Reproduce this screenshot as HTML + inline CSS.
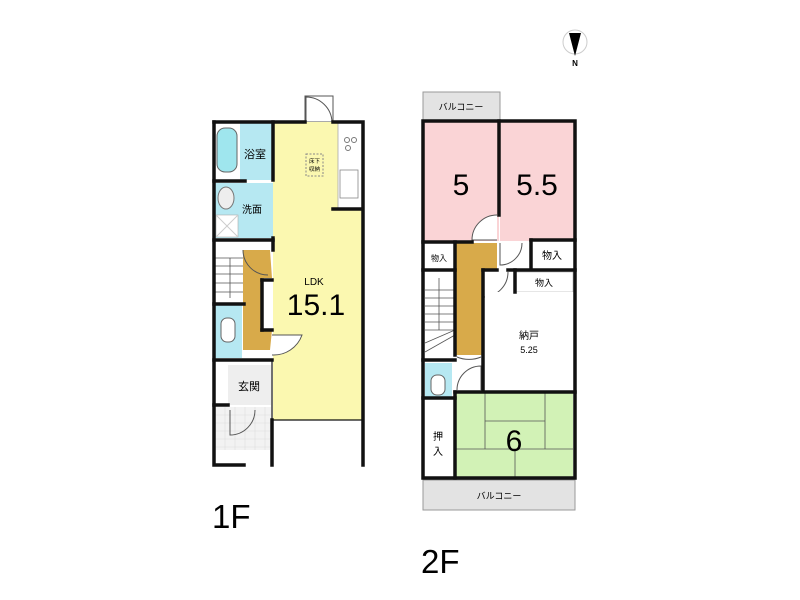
<!DOCTYPE html>
<html><head><meta charset="utf-8"><style>
html,body{margin:0;padding:0;background:#fff;width:800px;height:600px;overflow:hidden}
text{font-family:"Liberation Sans","Noto Sans CJK JP",sans-serif}
</style></head><body>
<svg width="800" height="600" viewBox="0 0 800 600" xmlns="http://www.w3.org/2000/svg">
<!-- compass -->
<circle cx="575" cy="42" r="12" fill="#fff" stroke="#ccc" stroke-width="1"/>
<polygon points="569,33 581,33 575,56" fill="#000"/>
<text x="575" y="66" font-size="8" font-weight="bold" text-anchor="middle">N</text>

<!-- ===== 1F ===== -->
<!-- entry door top -->
<rect x="305" y="96" width="28" height="26" fill="#fff" stroke="#555" stroke-width="1"/>
<path d="M306 122 L306 97 A26 26 0 0 1 332 122" fill="none" stroke="#555"/>
<!-- LDK -->
<rect x="273" y="122" width="89" height="298" fill="#fbf8b0"/>
<rect x="338" y="122" width="24" height="86" fill="#fff" stroke="#aaa" stroke-width="0.8"/>
<circle cx="347" cy="140" r="2.5" fill="none" stroke="#777"/><circle cx="354" cy="140" r="2.5" fill="none" stroke="#777"/><circle cx="348" cy="148" r="2.5" fill="none" stroke="#777"/>
<rect x="340" y="170" width="18" height="28" fill="#fff" stroke="#888" stroke-width="0.8"/>
<rect x="306" y="154" width="17" height="22" fill="none" stroke="#888" stroke-dasharray="2,1.5"/>
<text x="314.5" y="163" font-size="5.5" text-anchor="middle">床下</text>
<text x="314.5" y="171" font-size="5.5" text-anchor="middle">収納</text>
<text x="314" y="285" font-size="10" text-anchor="middle">LDK</text>
<text x="316" y="315" font-size="30" text-anchor="middle" transform="scale(1,1)">15.1</text>
<!-- bath -->
<rect x="213" y="122" width="60" height="58" fill="#fff"/>
<rect x="240" y="122" width="33" height="58" fill="#b6e8f2"/>
<rect x="217" y="128" width="20" height="44" rx="8" fill="#9fe6ee" stroke="#666" stroke-width="1"/>
<text x="255" y="158" font-size="11" text-anchor="middle">浴室</text>
<!-- washroom -->
<rect x="215" y="183" width="58" height="55" fill="#b6e8f2"/>
<ellipse cx="226" cy="198" rx="8" ry="11" fill="#eee" stroke="#777"/>
<rect x="216" y="215" width="22" height="22" fill="#fff" stroke="#aaa" stroke-width="0.6"/>
<line x1="216" y1="215" x2="238" y2="237" stroke="#ccc"/><line x1="238" y1="215" x2="216" y2="237" stroke="#ccc"/>
<text x="252" y="213" font-size="10" text-anchor="middle">洗面</text>
<!-- stairs -->
<rect x="215" y="243" width="30" height="60" fill="#fff"/>
<g stroke="#555" stroke-width="0.8">
<line x1="215" y1="258" x2="245" y2="258"/><line x1="215" y1="266" x2="245" y2="266"/><line x1="215" y1="274" x2="245" y2="274"/><line x1="215" y1="283" x2="245" y2="283"/><line x1="215" y1="292" x2="245" y2="292"/>
<line x1="230" y1="258" x2="230" y2="298"/></g>
<!-- hall tan -->
<polygon points="243,250 270,250 272,278 262,278 262,330 272,330 270,350 243,350" fill="#d8aa4a"/>
<path d="M243 250 A25 25 0 0 0 268 275" fill="none" stroke="#555"/>
<!-- toilet -->
<rect x="215" y="305" width="27" height="53" fill="#b6e8f2"/>
<rect x="221" y="318" width="14" height="24" rx="6" fill="#fff" stroke="#666"/>
<!-- door to LDK -->
<path d="M272 335 L302 335 A30 30 0 0 1 272 355" fill="#fff" stroke="#555"/>
<!-- genkan -->
<rect x="228" y="365" width="43" height="40" fill="#eeeeee"/>
<text x="249" y="390" font-size="11" text-anchor="middle">玄関</text>
<rect x="215" y="407" width="56" height="43" fill="#f2f2f2"/>
<g stroke="#ddd" stroke-width="0.6">
<line x1="215" y1="415" x2="271" y2="415"/><line x1="215" y1="423" x2="271" y2="423"/><line x1="215" y1="431" x2="271" y2="431"/><line x1="215" y1="439" x2="271" y2="439"/><line x1="215" y1="447" x2="271" y2="447"/>
<line x1="225" y1="407" x2="225" y2="450"/><line x1="235" y1="407" x2="235" y2="450"/><line x1="245" y1="407" x2="245" y2="450"/><line x1="255" y1="407" x2="255" y2="450"/><line x1="265" y1="407" x2="265" y2="450"/></g>
<path d="M230 410 L230 435 A25 25 0 0 0 255 410" fill="none" stroke="#555"/>
<!-- 1F walls -->
<g stroke="#111" stroke-width="3.5" fill="none" stroke-linecap="square">
<polyline points="214,122 305,122"/><polyline points="333,122 363,122 363,465"/>
<polyline points="214,122 214,465 244,465"/>
<line x1="273" y1="122" x2="273" y2="180"/><line x1="273" y1="238" x2="273" y2="250"/>
<line x1="214" y1="181" x2="245" y2="181"/><line x1="214" y1="240" x2="273" y2="240"/>
<line x1="214" y1="304" x2="244" y2="304"/><line x1="214" y1="360" x2="272" y2="360"/>
<line x1="333" y1="209" x2="362" y2="209"/>
<line x1="272" y1="420" x2="272" y2="465"/><line x1="214" y1="405" x2="228" y2="405"/>
<line x1="272" y1="280" x2="262" y2="280"/><line x1="262" y1="280" x2="262" y2="330"/><line x1="262" y1="330" x2="272" y2="330"/>
</g>
<g stroke="#111" stroke-width="1.2"><line x1="272" y1="420" x2="362" y2="420"/><line x1="272" y1="360" x2="272" y2="420"/></g>

<!-- ===== 2F ===== -->
<rect x="423" y="92" width="77" height="28" fill="#e3e3e3" stroke="#999"/>
<text x="461" y="110" font-size="9" text-anchor="middle">バルコニー</text>
<rect x="423" y="480" width="152" height="30" fill="#e3e3e3" stroke="#999"/>
<text x="499" y="499" font-size="9" text-anchor="middle">バルコニー</text>
<rect x="423" y="121" width="76" height="120" fill="#fad4d6"/>
<rect x="500" y="121" width="75" height="120" fill="#fad4d6"/>
<text x="461" y="195" font-size="30" text-anchor="middle">5</text>
<text x="537" y="195" font-size="30" text-anchor="middle">5.5</text>
<rect x="425" y="243" width="30" height="28" fill="#fff"/>
<text x="439" y="261" font-size="8" text-anchor="middle">物入</text>
<rect x="531" y="240" width="43" height="29" fill="#fff"/>
<text x="552" y="259" font-size="10" text-anchor="middle">物入</text>
<rect x="515" y="272" width="58" height="20" fill="#fff" stroke="#999" stroke-width="0.5"/>
<text x="544" y="286" font-size="9" text-anchor="middle">物入</text>
<!-- doors 2F -->
<path d="M497 240 L472 240 A25 25 0 0 1 497 215" fill="#fff" stroke="#555"/>
<path d="M500 243 L500 265 A22 22 0 0 0 522 243" fill="#fff" stroke="#555"/>
<path d="M483 272 L483 297 A25 25 0 0 0 508 272" fill="#fff" stroke="#555"/>
<!-- tan corridor -->
<polygon points="455,243 497,243 497,270 483,270 483,355 455,355" fill="#d8aa4a"/>
<!-- stairs 2F -->
<rect x="425" y="272" width="30" height="83" fill="#fff"/>
<g stroke="#555" stroke-width="0.8">
<line x1="425" y1="290" x2="455" y2="290"/><line x1="425" y1="298" x2="455" y2="298"/><line x1="425" y1="306" x2="455" y2="306"/><line x1="425" y1="314" x2="455" y2="314"/><line x1="425" y1="322" x2="455" y2="322"/><line x1="425" y1="330" x2="455" y2="330"/>
<line x1="439" y1="278" x2="439" y2="330"/><line x1="425" y1="352" x2="455" y2="335"/><line x1="425" y1="343" x2="455" y2="330"/></g>
<!-- nando -->
<rect x="485" y="292" width="88" height="98" fill="#fff"/>
<text x="529" y="339" font-size="10" text-anchor="middle">納戸</text>
<text x="529" y="353" font-size="9" text-anchor="middle">5.25</text>
<!-- toilet 2F -->
<rect x="425" y="363" width="27" height="34" fill="#b6e8f2"/>
<rect x="431" y="375" width="14" height="20" rx="6" fill="#fff" stroke="#666"/>
<path d="M457 390 A24 24 0 0 1 481 366 L481 390" fill="none" stroke="#555"/>
<path d="M457 357 A24 18 0 0 0 481 357" fill="none" stroke="#555"/>
<!-- oshiire -->
<text x="438" y="440" font-size="10" text-anchor="middle">押</text>
<text x="438" y="455" font-size="10" text-anchor="middle">入</text>
<!-- 6 tatami -->
<rect x="455" y="393" width="118" height="86" fill="#d2f2b6"/>
<g stroke="#555" stroke-width="0.8">
<line x1="485" y1="393" x2="485" y2="449"/><line x1="545" y1="393" x2="545" y2="449"/>
<line x1="485" y1="421" x2="545" y2="421"/><line x1="455" y1="449" x2="573" y2="449"/>
<line x1="515" y1="449" x2="515" y2="479"/></g>
<text x="514" y="451" font-size="30" text-anchor="middle">6</text>
<!-- 2F walls -->
<g stroke="#111" stroke-width="3.5" fill="none" stroke-linecap="square">
<rect x="423" y="121" width="152" height="357"/>
<line x1="499" y1="121" x2="499" y2="215"/>
<line x1="423" y1="242" x2="472" y2="242"/><line x1="455" y1="242" x2="455" y2="355"/>
<line x1="531" y1="240" x2="575" y2="240"/><line x1="531" y1="240" x2="531" y2="268"/>
<line x1="483" y1="270" x2="497" y2="270"/><line x1="508" y1="270" x2="575" y2="270"/><line x1="515" y1="270" x2="515" y2="292"/>
<line x1="483" y1="270" x2="483" y2="390"/>
<line x1="423" y1="270" x2="455" y2="270"/>
<line x1="423" y1="360" x2="455" y2="360"/><line x1="423" y1="398" x2="455" y2="398"/>
<line x1="455" y1="392" x2="575" y2="392"/><line x1="455" y1="392" x2="455" y2="478"/>
</g>

<text x="212" y="528" font-size="33">1F</text>
<text x="421" y="573" font-size="33">2F</text>
</svg>
</body></html>
